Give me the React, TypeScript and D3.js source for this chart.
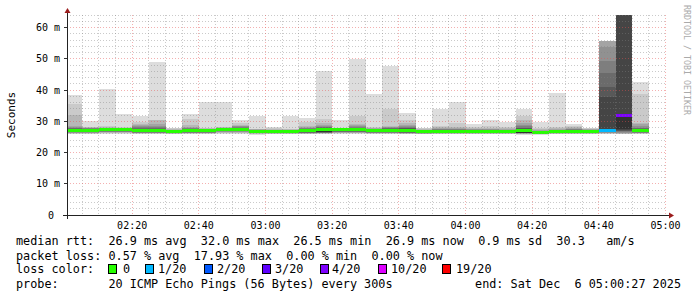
import React from "react";
import * as d3 from "d3";

const FONT = "'DejaVu Sans Mono', monospace";

// 5-minute step start times (UTC, Sat Dec 6 2025)
const STEP_STARTS = [
  "02:00", "02:05", "02:10", "02:15", "02:20", "02:25", "02:30", "02:35", "02:40", "02:45",
  "02:50", "02:55", "03:00", "03:05", "03:10", "03:15", "03:20", "03:25", "03:30", "03:35",
  "03:40", "03:45", "03:50", "03:55", "04:00", "04:05", "04:10", "04:15", "04:20", "04:25",
  "04:30", "04:35", "04:40", "04:45", "04:50",
];

// median rtt per step (ms)
const MEDIAN_MS = [
  27.0, 27.2, 27.3, 27.3, 27.0, 27.0, 26.6, 26.9, 27.0, 27.4,
  27.4, 26.8, 26.6, 26.7, 26.9, 27.3, 27.3, 27.3, 27.1, 27.1,
  26.9, 26.6, 26.6, 26.6, 26.6, 26.6, 26.6, 27.1, 26.5, 26.6,
  26.8, 26.8, 27.2, 32.0, 27.0,
];

// lost pings (out of 20) per step
const LOSS_PINGS = [
  0, 0, 0, 0, 0, 0, 0, 0, 0, 0,
  0, 0, 0, 0, 0, 0, 0, 0, 0, 0,
  0, 0, 0, 0, 0, 0, 0, 0, 0, 0,
  0, 0, 1, 4, 0,
];

// 20 sorted ping rtts per step (ms), null = unknown (lost)
const PINGS_MS: (number | null)[][] = [
  [25.8, 26.0, 26.1, 26.2, 26.4, 26.5, 26.6, 26.7, 26.8, 26.9, 27.0, 27.2, 27.5, 27.7, 28.0, 28.2, 28.5, 32.0, 35.4, 38.4],
  [25.9, 26.0, 26.2, 26.3, 26.4, 26.5, 26.5, 26.6, 26.6, 26.6, 27.2, 27.4, 27.5, 27.6, 27.7, 27.8, 27.9, 28.1, 28.3, 30.2],
  [26.0, 26.2, 26.3, 26.5, 26.6, 26.7, 26.8, 26.9, 27.0, 27.1, 27.3, 27.4, 27.5, 27.6, 27.7, 27.8, 28.0, 28.2, 28.5, 40.3],
  [26.0, 26.2, 26.3, 26.5, 26.6, 26.7, 26.8, 26.9, 27.0, 27.1, 27.3, 27.4, 27.5, 27.6, 27.7, 27.8, 27.9, 28.0, 28.3, 32.3],
  [25.9, 26.0, 26.1, 26.2, 26.3, 26.4, 26.5, 26.6, 26.7, 26.8, 27.0, 27.3, 27.6, 27.9, 28.2, 28.5, 28.8, 29.2, 29.9, 31.8],
  [25.9, 26.0, 26.1, 26.2, 26.3, 26.4, 26.5, 26.6, 26.7, 26.8, 27.0, 27.3, 27.6, 27.9, 28.2, 28.6, 29.0, 30.3, 30.4, 49.1],
  [25.8, 25.9, 26.0, 26.1, 26.1, 26.2, 26.3, 26.3, 26.4, 26.5, 26.6, 26.7, 26.8, 26.9, 27.0, 27.1, 27.3, 27.5, 27.7, 27.9],
  [25.9, 26.0, 26.1, 26.2, 26.3, 26.4, 26.5, 26.6, 26.7, 26.8, 26.9, 27.1, 27.3, 27.5, 27.7, 27.9, 28.2, 28.8, 30.7, 32.3],
  [25.8, 26.0, 26.1, 26.2, 26.3, 26.4, 26.5, 26.6, 26.7, 26.8, 27.0, 27.1, 27.2, 27.3, 27.4, 27.5, 27.6, 27.7, 27.9, 36.3],
  [26.0, 26.2, 26.3, 26.5, 26.6, 26.8, 26.9, 27.0, 27.1, 27.2, 27.4, 27.5, 27.6, 27.7, 27.8, 27.9, 28.0, 28.1, 28.3, 36.3],
  [26.0, 26.2, 26.3, 26.5, 26.6, 26.8, 26.9, 27.0, 27.1, 27.2, 27.4, 27.6, 27.8, 28.0, 28.2, 28.4, 28.6, 28.8, 29.5, 30.4],
  [25.7, 25.9, 26.0, 26.1, 26.2, 26.3, 26.4, 26.5, 26.6, 26.7, 26.8, 26.9, 27.0, 27.1, 27.2, 27.3, 27.4, 27.5, 27.6, 31.8],
  [25.8, 25.9, 26.0, 26.1, 26.2, 26.3, 26.3, 26.4, 26.5, 26.5, 26.6, 26.7, 26.8, 26.9, 27.0, 27.1, 27.3, 27.5, 27.8, 28.2],
  [25.8, 25.9, 26.0, 26.1, 26.2, 26.3, 26.4, 26.5, 26.6, 26.6, 26.7, 26.8, 26.9, 27.0, 27.1, 27.2, 27.3, 27.4, 27.6, 31.8],
  [25.8, 25.9, 26.0, 26.1, 26.2, 26.3, 26.4, 26.5, 26.6, 26.7, 26.9, 27.1, 27.3, 27.5, 27.7, 27.9, 28.2, 28.6, 29.9, 31.1],
  [25.9, 26.0, 26.1, 26.2, 26.3, 26.4, 26.4, 26.5, 26.5, 26.5, 27.3, 27.6, 27.9, 28.1, 28.3, 28.6, 28.9, 29.5, 30.7, 46.1],
  [26.0, 26.2, 26.3, 26.4, 26.5, 26.6, 26.7, 26.8, 26.9, 27.0, 27.3, 27.4, 27.5, 27.5, 27.6, 27.6, 27.7, 27.8, 28.0, 30.4],
  [26.0, 26.2, 26.3, 26.4, 26.5, 26.6, 26.7, 26.8, 26.9, 27.0, 27.3, 27.5, 27.7, 27.9, 28.1, 28.4, 28.7, 29.0, 31.7, 49.9],
  [25.9, 26.0, 26.1, 26.2, 26.3, 26.4, 26.5, 26.6, 26.7, 26.9, 27.1, 27.2, 27.3, 27.4, 27.5, 27.6, 27.8, 28.0, 28.3, 38.6],
  [25.9, 26.0, 26.1, 26.2, 26.3, 26.4, 26.5, 26.6, 26.7, 26.9, 27.1, 27.3, 27.5, 27.7, 27.9, 28.1, 28.3, 28.6, 33.9, 47.8],
  [25.8, 25.9, 26.0, 26.1, 26.2, 26.3, 26.4, 26.5, 26.6, 26.7, 26.9, 27.3, 27.7, 27.9, 28.2, 28.5, 28.8, 29.6, 30.4, 32.5],
  [25.8, 25.9, 26.0, 26.0, 26.1, 26.2, 26.2, 26.3, 26.4, 26.5, 26.6, 26.7, 26.8, 26.9, 27.0, 27.1, 27.3, 27.5, 27.7, 27.9],
  [25.8, 25.9, 26.0, 26.1, 26.1, 26.2, 26.3, 26.4, 26.5, 26.5, 26.6, 26.8, 27.0, 27.2, 27.4, 27.6, 27.8, 28.1, 28.5, 33.9],
  [25.8, 25.9, 26.0, 26.1, 26.1, 26.2, 26.3, 26.4, 26.5, 26.5, 26.6, 26.8, 27.0, 27.2, 27.4, 27.6, 27.8, 28.1, 29.5, 36.3],
  [25.8, 25.9, 26.0, 26.1, 26.1, 26.2, 26.3, 26.4, 26.5, 26.5, 26.6, 26.7, 26.8, 27.0, 27.2, 27.4, 27.6, 28.0, 28.3, 29.1],
  [25.8, 25.9, 26.0, 26.1, 26.1, 26.2, 26.3, 26.4, 26.5, 26.5, 26.6, 26.7, 26.8, 27.0, 27.2, 27.4, 27.6, 28.0, 28.5, 30.4],
  [25.8, 25.9, 26.0, 26.1, 26.1, 26.2, 26.3, 26.4, 26.5, 26.5, 26.6, 26.7, 26.8, 27.0, 27.1, 27.3, 27.5, 27.8, 28.3, 29.9],
  [25.7, 25.8, 25.9, 26.0, 26.1, 26.2, 26.3, 26.3, 26.4, 26.4, 27.1, 27.4, 27.7, 28.0, 28.4, 28.8, 29.4, 30.4, 31.7, 33.9],
  [25.7, 25.8, 25.9, 26.0, 26.1, 26.1, 26.2, 26.3, 26.4, 26.4, 26.5, 26.6, 26.7, 26.8, 26.9, 27.0, 27.2, 27.4, 27.7, 29.9],
  [25.8, 25.9, 26.0, 26.1, 26.1, 26.2, 26.3, 26.4, 26.5, 26.5, 26.6, 26.7, 26.8, 26.9, 27.0, 27.2, 27.4, 27.8, 28.3, 39.1],
  [25.8, 25.9, 26.0, 26.1, 26.2, 26.3, 26.4, 26.5, 26.6, 26.7, 26.8, 26.9, 27.0, 27.2, 27.4, 27.6, 27.8, 28.2, 28.5, 29.1],
  [25.8, 25.9, 26.0, 26.1, 26.2, 26.3, 26.4, 26.5, 26.6, 26.7, 26.8, 26.9, 27.0, 27.1, 27.2, 27.3, 27.4, 27.5, 27.7, 28.0],
  [25.9, 26.0, 26.1, 26.2, 26.3, 26.5, 26.6, 26.8, 27.0, 27.2, 27.5, 37.9, 41.1, 45.3, 49.3, 53.9, 55.7, 55.7, 55.7, null],
  [null, null, 25.9, 26.1, 26.3, 26.6, 26.8, 27.0, 27.2, 27.4, 32.0, 68.0, 72.0, 76.0, 80.0, 85.0, 90.0, 95.0, null, null],
  [25.9, 26.0, 26.1, 26.2, 26.3, 26.4, 26.5, 26.6, 26.7, 26.8, 27.0, 27.2, 27.5, 27.7, 28.0, 28.5, 29.0, 29.4, 38.6, 42.7],
];

const Y_TICKS = [0, 10, 20, 30, 40, 50, 60];
const X_TICK_LABELS = ["02:20", "02:40", "03:00", "03:20", "03:40", "04:00", "04:20", "04:40", "05:00"];

const LOSS_LEGEND = [
  { label: "0", maxLoss: 0, color: "#26ff00" },
  { label: "1/20", maxLoss: 1, color: "#00b8ff" },
  { label: "2/20", maxLoss: 2, color: "#0059ff" },
  { label: "3/20", maxLoss: 3, color: "#5e00ff" },
  { label: "4/20", maxLoss: 4, color: "#7e00ff" },
  { label: "10/20", maxLoss: 10, color: "#dd00ff" },
  { label: "19/20", maxLoss: 19, color: "#ff0000" },
];
const LOSS_BOX_X = [108, 145, 204, 262, 320, 378, 442];
const LOSS_TEXT_X = [123, 158, 217, 275, 332, 391, 456];

const RTT_LINE = [
  { t: "median rtt:", c: 0 },
  { t: "26.9 ms avg", c: 13 },
  { t: "32.0 ms max", c: 26 },
  { t: "26.5 ms min", c: 39 },
  { t: "26.9 ms now", c: 52 },
  { t: "0.9 ms sd", c: 65 },
  { t: "30.3", c: 76 },
  { t: "am/s", c: 83 },
];
const LOSS_LINE = [
  { t: "packet loss:", c: 0 },
  { t: "0.57 % avg", c: 13 },
  { t: "17.93 % max", c: 25 },
  { t: "0.00 % min", c: 38 },
  { t: "0.00 % now", c: 50 },
];
const PROBE_TEXT = "20 ICMP Echo Pings (56 Bytes) every 300s";
const END_TEXT = "end: Sat Dec  6 05:00:27 2025";

const utc = (hm: string, s = 0) => {
  const [h, m] = hm.split(":").map(Number);
  return new Date(Date.UTC(2025, 11, 6, h, m, s));
};

export default function App() {
  const X0 = 67, X1 = 667, Y0 = 215, Y1 = 15;
  const CW = 7.11; // legend char advance
  const x = d3.scaleUtc().domain([utc("02:00", 27), utc("05:00", 27)]).range([X0, X1]);
  const y = d3.scaleLinear().domain([0, 64]).range([Y0, Y1]);

  const minorY = d3.range(2, 65, 2).filter((v) => v % 10 !== 0);
  const majorY = Y_TICKS.filter((v) => v > 0);
  const minorX = d3.utcMinute.every(5)!.range(utc("02:05"), utc("05:01")).filter((d) => d.getUTCMinutes() % 20 !== 0);
  const majorX = X_TICK_LABELS.map((s) => utc(s));

  const lossColor = (l: number) => (LOSS_LEGEND.find((e) => l <= e.maxLoss) || LOSS_LEGEND[LOSS_LEGEND.length - 1]).color;

  const bars: JSX.Element[] = [];
  STEP_STARTS.forEach((s, i) => {
    const t = utc(s);
    const xa = x(t);
    const xb = x(new Date(t.getTime() + 300000));
    const p = PINGS_MS[i];
    const half = p.length / 2;
    for (let k = 1; k <= half; k++) {
      const lo = p[k - 1];
      const hi = p[p.length - k];
      if (lo == null || hi == null) continue;
      const g = Math.floor((190 / half) * (half - k)) + 50;
      const col = d3.rgb(g, g, g).formatHex();
      bars.push(
        <rect key={`s${i}-${k}`} x={xa} width={xb - xa} y={y(hi)} height={y(lo) - y(hi)} fill={col} shapeRendering="crispEdges" />
      );
    }
    const ym = y(MEDIAN_MS[i]);
    bars.push(
      <rect key={`m${i}`} x={xa} width={xb - xa} y={ym - 1.5} height={3} fill={lossColor(LOSS_PINGS[i])} shapeRendering="crispEdges" />
    );
  });

  const minorCol = "rgba(128,128,128,0.42)";
  const majorCol = "rgba(230,80,80,0.45)";

  return (
    <svg width={697} height={297} style={{ position: "absolute", left: 0, top: 0, display: "block", background: "#fff" }}>
      <defs>
        <clipPath id="plot">
          <rect x={X0} y={Y1} width={X1 - X0} height={Y0 - Y1} />
        </clipPath>
      </defs>
      <rect x={0} y={0} width={697} height={297} fill="#ffffff" />
      <g clipPath="url(#plot)">{bars}</g>

      {/* grid on top */}
      <g shapeRendering="crispEdges" strokeDasharray="1 2">
        {minorY.map((v) => (
          <line key={`my${v}`} x1={X0} x2={X1} y1={y(v)} y2={y(v)} stroke={minorCol} />
        ))}
        {minorX.map((d) => (
          <line key={`mx${+d}`} x1={x(d)} x2={x(d)} y1={Y1} y2={Y0} stroke={minorCol} />
        ))}
        {majorY.map((v) => (
          <line key={`My${v}`} x1={X0} x2={X1} y1={y(v)} y2={y(v)} stroke={majorCol} />
        ))}
        {majorX.map((d) => (
          <line key={`Mx${+d}`} x1={x(d)} x2={x(d)} y1={Y1} y2={Y0} stroke={majorCol} />
        ))}
      </g>

      {/* y tick marks */}
      <g shapeRendering="crispEdges" stroke="#333">
        {Y_TICKS.map((v) => (
          <line key={`t${v}`} x1={X0 - 3} x2={X0} y1={y(v)} y2={y(v)} />
        ))}
      </g>

      {/* axes */}
      <line x1={X0 - 4} x2={X1 + 4} y1={Y0 + 0.5} y2={Y0 + 0.5} stroke="#222" />
      <line x1={X0 + 0.5} x2={X0 + 0.5} y1={Y0 + 4} y2={Y1 - 3} stroke="#222" />
      <polygon points={`${X1 + 2},${Y0 - 2.5} ${X1 + 7},${Y0 + 0.5} ${X1 + 2},${Y0 + 3.5}`} fill="#9b1c1c" />
      <polygon points={`${X0 - 2.5},${Y1 - 2} ${X0 + 0.5},${Y1 - 7} ${X0 + 3.5},${Y1 - 2}`} fill="#9b1c1c" />

      {/* y labels */}
      <g fontFamily={FONT} fontSize={10} fill="#000" textAnchor="end">
        {Y_TICKS.map((v) => (
          <text key={`yl${v}`} x={v === 0 ? 54 : 60} y={y(v) + 3.6}>
            {v === 0 ? "0" : `${v} m`}
          </text>
        ))}
      </g>
      {/* x labels */}
      <g fontFamily={FONT} fontSize={10} fill="#000" textAnchor="middle">
        {majorX.map((d, i) => (
          <text key={`xl${i}`} x={x(d)} y={229}>
            {d3.utcFormat("%H:%M")(d)}
          </text>
        ))}
      </g>

      <text transform="translate(15,115) rotate(-90)" fontFamily={FONT} fontSize={11} textAnchor="middle" fill="#000">
        Seconds
      </text>
      <text transform="translate(684,5) rotate(90)" fontFamily={FONT} fontSize={8.3} fill="#aaaaaa">
        RRDTOOL / TOBI OETIKER
      </text>

      {/* legend */}
      <g fontFamily={FONT} fontSize={11.8} fill="#000">
        {RTT_LINE.map((e, i) => (
          <text key={`r${i}`} x={16 + e.c * CW} y={245}>{e.t}</text>
        ))}
        {LOSS_LINE.map((e, i) => (
          <text key={`l${i}`} x={16 + e.c * CW} y={259.5}>{e.t}</text>
        ))}
        <text x={16} y={273}>loss color:</text>
        {LOSS_LEGEND.map((e, i) => (
          <g key={`lc${i}`}>
            <rect x={LOSS_BOX_X[i] + 0.5} y={264.5} width={8} height={9} fill={e.color} stroke="#000" shapeRendering="crispEdges" />
            <text x={LOSS_TEXT_X[i]} y={273}>{e.label}</text>
          </g>
        ))}
        <text x={16} y={287.5}>probe:</text>
        <text x={16 + 13 * CW} y={287.5}>{PROBE_TEXT}</text>
        <text x={681} y={287.5} textAnchor="end" style={{ whiteSpace: "pre" }}>{END_TEXT}</text>
      </g>
    </svg>
  );
}
